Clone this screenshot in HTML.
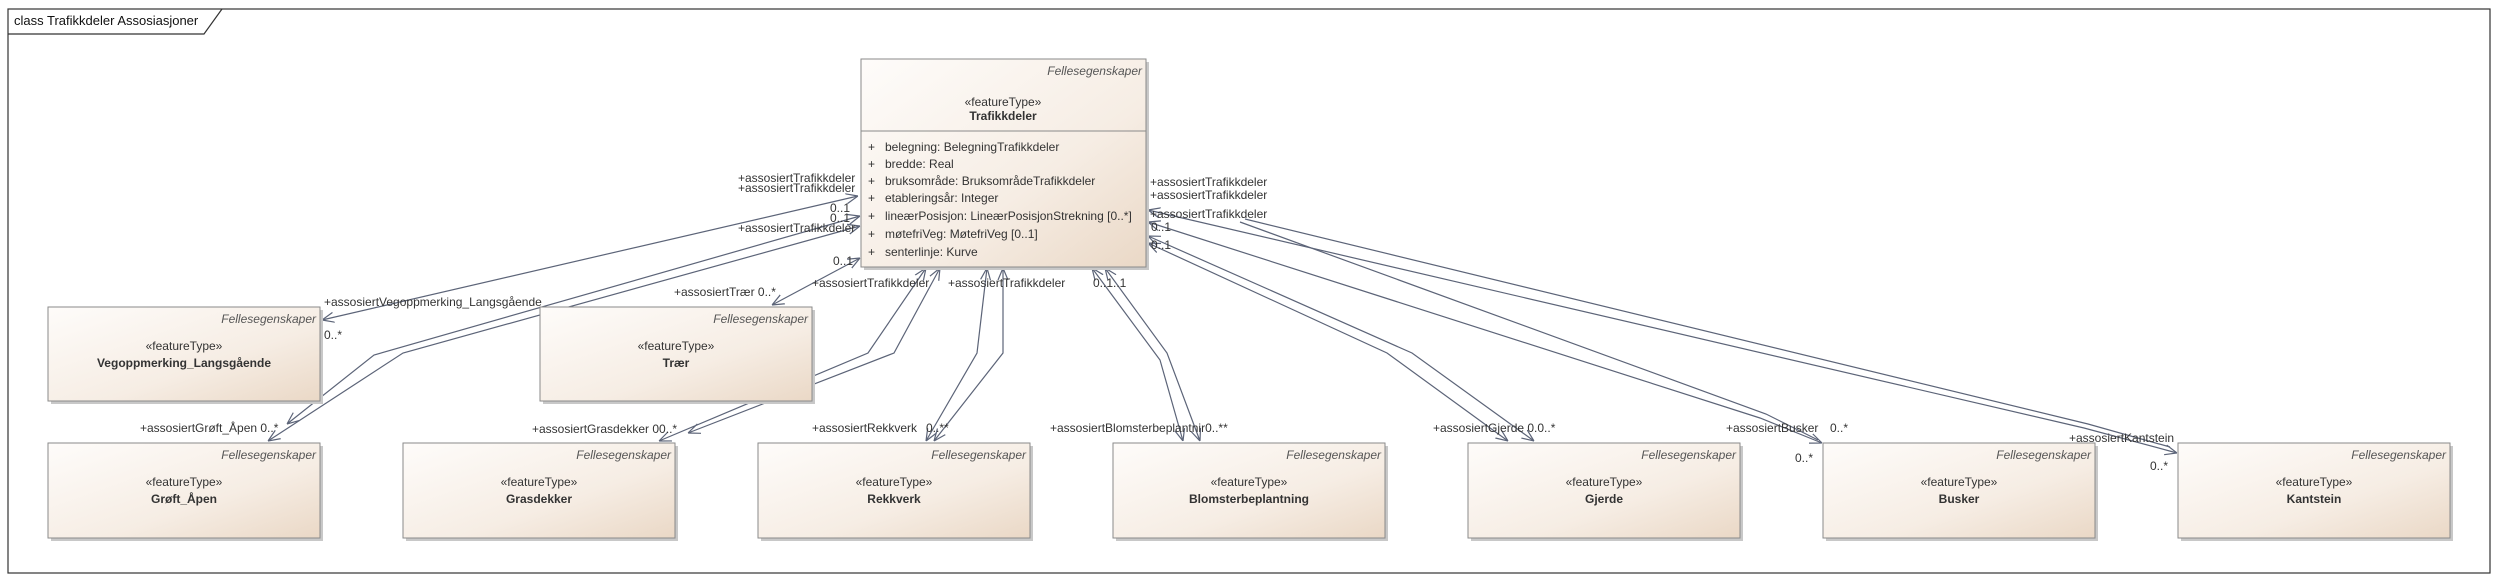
<!DOCTYPE html>
<html><head><meta charset="utf-8"><style>
html,body{margin:0;padding:0;background:#fff;}
svg{display:block;}
text{font-family:"Liberation Sans",sans-serif;font-size:12px;fill:#333;}
.it{font-style:italic;fill:#555;}
.b{font-weight:bold;fill:#333;}
.ln{fill:none;stroke:#5c6478;stroke-width:1.2;}
</style></head><body>
<svg width="2507" height="581" viewBox="0 0 2507 581" xmlns="http://www.w3.org/2000/svg">
<defs>
<linearGradient id="g" x1="0" y1="0" x2="1" y2="1">
<stop offset="0" stop-color="#fefcfa"/><stop offset="0.6" stop-color="#f6ede4"/><stop offset="1" stop-color="#ead8c6"/>
</linearGradient>
<marker id="a" viewBox="0 0 12 12" refX="12" refY="6" markerWidth="12" markerHeight="12" markerUnits="userSpaceOnUse" orient="auto-start-reverse">
<path d="M0,1 L12,6 L0,11" fill="none" stroke="#5c6478" stroke-width="1.2"/>
</marker>
</defs>
<rect x="8" y="9" width="2482" height="564" fill="#fff" stroke="#333" stroke-width="1.2"/>
<path d="M8,34 L204,34 L222,9" fill="none" stroke="#333" stroke-width="1.2"/>
<text x="14" y="25" style="font-size:13px;fill:#111">class Trafikkdeler Assosiasjoner</text>

<!-- connectors -->
<g class="ln">
<polyline class="ln" points="858,196 322,320" marker-start="url(#a)" marker-end="url(#a)"/>
<polyline class="ln" points="860,216 374,355 287,424" marker-start="url(#a)" marker-end="url(#a)"/>
<polyline class="ln" points="860,226 403,353 268,441" marker-start="url(#a)" marker-end="url(#a)"/>
<polyline class="ln" points="860,258 772,305" marker-start="url(#a)" marker-end="url(#a)"/>
<polyline class="ln" points="926,268 868,353 659,441" marker-start="url(#a)" marker-end="url(#a)"/>
<polyline class="ln" points="940,268 894,353 688,433" marker-start="url(#a)" marker-end="url(#a)"/>
<polyline class="ln" points="987,268 977,353 926,441" marker-start="url(#a)" marker-end="url(#a)"/>
<polyline class="ln" points="1003,268 1003,353 934,441" marker-start="url(#a)" marker-end="url(#a)"/>
<polyline class="ln" points="1092,268 1160,360 1183,441" marker-start="url(#a)" marker-end="url(#a)"/>
<polyline class="ln" points="1105,268 1167,353 1200,441" marker-start="url(#a)" marker-end="url(#a)"/>
<polyline class="ln" points="1148,243 1387,353 1508,441" marker-start="url(#a)" marker-end="url(#a)"/>
<polyline class="ln" points="1148,236 1412,353 1534,441" marker-start="url(#a)" marker-end="url(#a)"/>
<polyline class="ln" points="1148,222 1760,418 1822,443" marker-start="url(#a)" marker-end="url(#a)"/>
<polyline class="ln" points="1240,222 1766,414 1818,440"/>
<polyline class="ln" points="1148,210 2084,428 2177,453" marker-start="url(#a)" marker-end="url(#a)"/>
<polyline class="ln" points="1245,219 2088,424 2170,447"/>
</g>

<!-- Trafikkdeler -->
<rect x="864" y="62" width="285" height="208" fill="#c8c8c8"/>
<rect x="861" y="59" width="285" height="208" fill="url(#g)" stroke="#8a8a8a"/>
<line x1="861" y1="131" x2="1146" y2="131" stroke="#8a8a8a"/>
<text x="1142" y="75" class="it" text-anchor="end">Fellesegenskaper</text>
<text x="1003" y="106" text-anchor="middle">«featureType»</text>
<text x="1003" y="120" class="b" text-anchor="middle">Trafikkdeler</text>
<g>
<text x="868" y="151">+</text><text x="885" y="151">belegning: BelegningTrafikkdeler</text>
<text x="868" y="168">+</text><text x="885" y="168">bredde: Real</text>
<text x="868" y="185">+</text><text x="885" y="185">bruksområde: BruksområdeTrafikkdeler</text>
<text x="868" y="202">+</text><text x="885" y="202">etableringsår: Integer</text>
<text x="868" y="220">+</text><text x="885" y="220">lineærPosisjon: LineærPosisjonStrekning [0..*]</text>
<text x="868" y="238">+</text><text x="885" y="238">møtefriVeg: MøtefriVeg [0..1]</text>
<text x="868" y="256">+</text><text x="885" y="256">senterlinje: Kurve</text>
</g>

<!-- boxes -->
<g>
<rect x="51" y="310" width="272" height="94" fill="#c8c8c8"/><rect x="48" y="307" width="272" height="94" fill="url(#g)" stroke="#8a8a8a"/>
<text x="316" y="323" class="it" text-anchor="end">Fellesegenskaper</text><text x="184" y="350" text-anchor="middle">«featureType»</text><text x="184" y="367" class="b" text-anchor="middle">Vegoppmerking_Langsgående</text>

<rect x="543" y="310" width="272" height="94" fill="#c8c8c8"/><rect x="540" y="307" width="272" height="94" fill="url(#g)" stroke="#8a8a8a"/>
<text x="808" y="323" class="it" text-anchor="end">Fellesegenskaper</text><text x="676" y="350" text-anchor="middle">«featureType»</text><text x="676" y="367" class="b" text-anchor="middle">Trær</text>

<rect x="51" y="446" width="272" height="95" fill="#c8c8c8"/><rect x="48" y="443" width="272" height="95" fill="url(#g)" stroke="#8a8a8a"/>
<text x="316" y="459" class="it" text-anchor="end">Fellesegenskaper</text><text x="184" y="486" text-anchor="middle">«featureType»</text><text x="184" y="503" class="b" text-anchor="middle">Grøft_Åpen</text>

<rect x="406" y="446" width="272" height="95" fill="#c8c8c8"/><rect x="403" y="443" width="272" height="95" fill="url(#g)" stroke="#8a8a8a"/>
<text x="671" y="459" class="it" text-anchor="end">Fellesegenskaper</text><text x="539" y="486" text-anchor="middle">«featureType»</text><text x="539" y="503" class="b" text-anchor="middle">Grasdekker</text>

<rect x="761" y="446" width="272" height="95" fill="#c8c8c8"/><rect x="758" y="443" width="272" height="95" fill="url(#g)" stroke="#8a8a8a"/>
<text x="1026" y="459" class="it" text-anchor="end">Fellesegenskaper</text><text x="894" y="486" text-anchor="middle">«featureType»</text><text x="894" y="503" class="b" text-anchor="middle">Rekkverk</text>

<rect x="1116" y="446" width="272" height="95" fill="#c8c8c8"/><rect x="1113" y="443" width="272" height="95" fill="url(#g)" stroke="#8a8a8a"/>
<text x="1381" y="459" class="it" text-anchor="end">Fellesegenskaper</text><text x="1249" y="486" text-anchor="middle">«featureType»</text><text x="1249" y="503" class="b" text-anchor="middle">Blomsterbeplantning</text>

<rect x="1471" y="446" width="272" height="95" fill="#c8c8c8"/><rect x="1468" y="443" width="272" height="95" fill="url(#g)" stroke="#8a8a8a"/>
<text x="1736" y="459" class="it" text-anchor="end">Fellesegenskaper</text><text x="1604" y="486" text-anchor="middle">«featureType»</text><text x="1604" y="503" class="b" text-anchor="middle">Gjerde</text>

<rect x="1826" y="446" width="272" height="95" fill="#c8c8c8"/><rect x="1823" y="443" width="272" height="95" fill="url(#g)" stroke="#8a8a8a"/>
<text x="2091" y="459" class="it" text-anchor="end">Fellesegenskaper</text><text x="1959" y="486" text-anchor="middle">«featureType»</text><text x="1959" y="503" class="b" text-anchor="middle">Busker</text>

<rect x="2181" y="446" width="272" height="95" fill="#c8c8c8"/><rect x="2178" y="443" width="272" height="95" fill="url(#g)" stroke="#8a8a8a"/>
<text x="2446" y="459" class="it" text-anchor="end">Fellesegenskaper</text><text x="2314" y="486" text-anchor="middle">«featureType»</text><text x="2314" y="503" class="b" text-anchor="middle">Kantstein</text>
</g>

<!-- labels -->
<g>
<text x="738" y="182">+assosiertTrafikkdeler</text>
<text x="738" y="192">+assosiertTrafikkdeler</text>
<text x="738" y="232">+assosiertTrafikkdeler</text>
<text x="830" y="212">0..1</text>
<text x="830" y="222">0..1</text>
<text x="833" y="265">0..1</text>
<text x="324" y="306">+assosiertVegoppmerking_Langsgående</text>
<text x="324" y="339">0..*</text>
<text x="674" y="296">+assosiertTrær 0..*</text>
<text x="140" y="432">+assosiertGrøft_Åpen 0..*</text>
<text x="532" y="433">+assosiertGrasdekker 00..*</text>
<text x="812" y="287">+assosiertTrafikkdeler</text>
<text x="948" y="287">+assosiertTrafikkdeler</text>
<text x="1093" y="287">0..1..1</text>
<text x="812" y="432">+assosiertRekkverk</text>
<text x="926" y="432">0..**</text>
<text x="1050" y="432">+assosiertBlomsterbeplantnir0..**</text>
<text x="1433" y="432">+assosiertGjerde 0.0..*</text>
<text x="1726" y="432">+assosiertBusker</text>
<text x="1830" y="432">0..*</text>
<text x="1795" y="462">0..*</text>
<text x="2069" y="442">+assosiertKantstein</text>
<text x="2150" y="470">0..*</text>
<text x="1150" y="186">+assosiertTrafikkdeler</text>
<text x="1150" y="199">+assosiertTrafikkdeler</text>
<text x="1150" y="218">+assosiertTrafikkdeler</text>
<text x="1151" y="231">0..1</text>
<text x="1151" y="249">0..1</text>
</g>
</svg>
</body></html>
